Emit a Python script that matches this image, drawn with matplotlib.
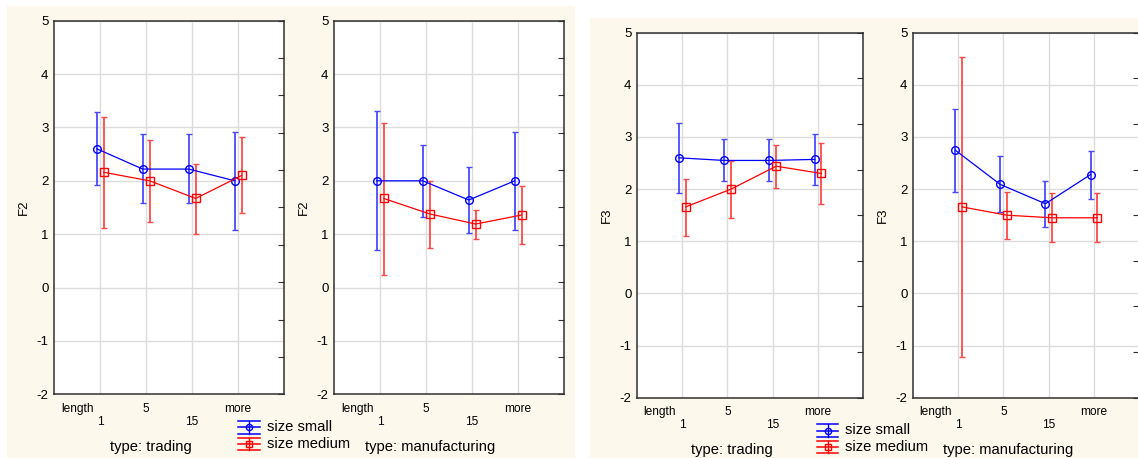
import matplotlib.pyplot as plt
from matplotlib.lines import Line2D
from matplotlib.patches import Rectangle

plt.rcParams['font.family'] = ['Liberation Sans', 'DejaVu Sans']
plt.rcParams['axes.unicode_minus'] = False

# Datos (media, límite superior, límite inferior) por categoría de "length"
categorias = ["1", "5", "15", "more"]

f2_trading_small = [2.60, 2.22, 2.22, 2.00]
f2_trading_small_hi = [3.28, 2.87, 2.87, 2.92]
f2_trading_small_lo = [1.92, 1.58, 1.58, 1.07]
f2_trading_medium = [2.16, 2.00, 1.67, 2.10]
f2_trading_medium_hi = [3.20, 2.77, 2.32, 2.82]
f2_trading_medium_lo = [1.12, 1.23, 1.00, 1.39]

f2_manuf_small = [2.00, 2.00, 1.64, 2.00]
f2_manuf_small_hi = [3.30, 2.67, 2.25, 2.92]
f2_manuf_small_lo = [0.70, 1.32, 1.02, 1.07]
f2_manuf_medium = [1.67, 1.38, 1.19, 1.36]
f2_manuf_medium_hi = [3.09, 1.99, 1.45, 1.90]
f2_manuf_medium_lo = [0.23, 0.75, 0.91, 0.82]

f3_trading_small = [2.60, 2.55, 2.55, 2.57]
f3_trading_small_hi = [3.27, 2.96, 2.96, 3.06]
f3_trading_small_lo = [1.92, 2.15, 2.15, 2.07]
f3_trading_medium = [1.66, 2.00, 2.44, 2.30]
f3_trading_medium_hi = [2.20, 2.53, 2.85, 2.88]
f3_trading_medium_lo = [1.11, 1.45, 2.03, 1.71]

f3_manuf_small = [2.75, 2.09, 1.72, 2.28]
f3_manuf_small_hi = [3.54, 2.63, 2.16, 2.74]
f3_manuf_small_lo = [1.95, 1.57, 1.28, 1.82]
f3_manuf_medium = [1.66, 1.50, 1.45, 1.45]
f3_manuf_medium_hi = [4.54, 1.94, 1.92, 1.92]
f3_manuf_medium_lo = [-1.21, 1.05, 0.99, 0.99]

AZUL = '#0000ff'
ROJO = '#ff0000'
FONDO = '#fcf8ec'

W, H = 1138, 458
fig = plt.figure(figsize=(W / 100, H / 100), dpi=100)


def fx(px):
    return px / W


def fy(py):
    return 1 - py / H


# Fondos beige de las dos imágenes
fig.patches.append(Rectangle((fx(7), fy(458)), fx(574) - fx(7), fy(6) - fy(458),
                             transform=fig.transFigure, color=FONDO, zorder=-10))
fig.patches.append(Rectangle((fx(590), fy(458)), fx(1138) - fx(590), fy(18) - fy(458),
                             transform=fig.transFigure, color=FONDO, zorder=-10))


def panel(x0, x1, y0, y1, small, s_hi, s_lo, medium, m_hi, m_lo, ylabel, n_der):
    ax = fig.add_axes([fx(x0), fy(y1), fx(x1) - fx(x0), fy(y0) - fy(y1)])
    ax.set_facecolor('white')
    x = range(1, len(categorias) + 1)
    xs = [i - 0.07 for i in x]
    xm = [i + 0.08 for i in x]
    err_s = [[v - lo for v, lo in zip(small, s_lo)], [hi - v for v, hi in zip(small, s_hi)]]
    err_m = [[v - lo for v, lo in zip(medium, m_lo)], [hi - v for v, hi in zip(medium, m_hi)]]
    ax.errorbar(xs, small, yerr=err_s, color=AZUL, lw=0.9, marker='o', ms=5.5,
                mfc='none', mec=AZUL, mew=1, elinewidth=1.3, ecolor='#4a4aff',
                capsize=2, capthick=1.3, zorder=3)
    ax.errorbar(xm, medium, yerr=err_m, color=ROJO, lw=0.9, marker='s', ms=5.5,
                mfc='none', mec=ROJO, mew=1, elinewidth=1.3, ecolor='#ff4a4a',
                capsize=2, capthick=1.3, zorder=3)
    ax.set_xlim(0, 5)
    ax.set_ylim(-2, 5)
    ax.set_yticks(range(-2, 6))
    ax.set_xticks(list(x))
    ax.set_xticklabels(["\n" + c if i % 2 == 0 else c for i, c in enumerate(categorias)],
                       fontsize=8.6, linespacing=1.15, va='top')
    ax.set_xticks([0.5], labels=["length"], minor=True, fontsize=8.6)
    ax.tick_params(axis='x', which='both', length=0, pad=6)
    ax.tick_params(axis='y', length=0, pad=4, labelsize=9.5)
    ax.grid(True, which='major', color='#dcdcdc', lw=1)
    ax.set_axisbelow(True)
    for s in ax.spines.values():
        s.set_color('#303030')
        s.set_linewidth(1.1)
    ax.set_ylabel(ylabel, fontsize=9.5, labelpad=5)
    # Marcas interiores del eje derecho
    der = ax.twinx()
    der.set_ylim(0, n_der)
    der.set_yticks(range(n_der + 1))
    der.tick_params(axis='y', direction='in', length=4, color='#303030', labelright=False)
    for s in der.spines.values():
        s.set_visible(False)
    return ax


panel(54, 284, 20.7, 394.3, f2_trading_small, f2_trading_small_hi, f2_trading_small_lo,
      f2_trading_medium, f2_trading_medium_hi, f2_trading_medium_lo, "F2", 10)
panel(334, 564, 20.7, 394.3, f2_manuf_small, f2_manuf_small_hi, f2_manuf_small_lo,
      f2_manuf_medium, f2_manuf_medium_hi, f2_manuf_medium_lo, "F2", 10)
panel(637, 863, 32.7, 397.7, f3_trading_small, f3_trading_small_hi, f3_trading_small_lo,
      f3_trading_medium, f3_trading_medium_hi, f3_trading_medium_lo, "F3", 8)
panel(913, 1139, 32.7, 397.7, f3_manuf_small, f3_manuf_small_hi, f3_manuf_small_lo,
      f3_manuf_medium, f3_manuf_medium_hi, f3_manuf_medium_lo, "F3", 8)

# Títulos de cada panel
for xc, yc, t in [(151, 447, "type: trading"), (430, 447, "type: manufacturing"),
                  (732, 450, "type: trading"), (1008, 450, "type: manufacturing")]:
    fig.text(fx(xc), fy(yc), t, ha='center', va='center', fontsize=10.6)


# Leyendas dibujadas a mano
def leyenda(x0, x1, y_small, y_medium):
    for yc, col, mk, txt in [(y_small, AZUL, 'o', "size small"), (y_medium, ROJO, 's', "size medium")]:
        for dy in (-6.3, 0, 6.3):
            fig.add_artist(Line2D([fx(x0), fx(x1)], [fy(yc + dy), fy(yc + dy)], color=col, lw=1.1))
        xc = (x0 + x1) / 2
        fig.add_artist(Line2D([fx(xc), fx(xc)], [fy(yc - 6.3), fy(yc + 6.3)], color=col, lw=1))
        fig.add_artist(Line2D([fx(xc)], [fy(yc)], color=col, marker=mk, ms=4.5,
                              mfc='none', mec=col, lw=0))
        fig.text(fx(x1 + 7), fy(yc), txt, ha='left', va='center', fontsize=10.6)


leyenda(238, 260, 427.3, 444)
leyenda(817, 838, 430.5, 447)

fig.savefig("out.png", dpi=100)
